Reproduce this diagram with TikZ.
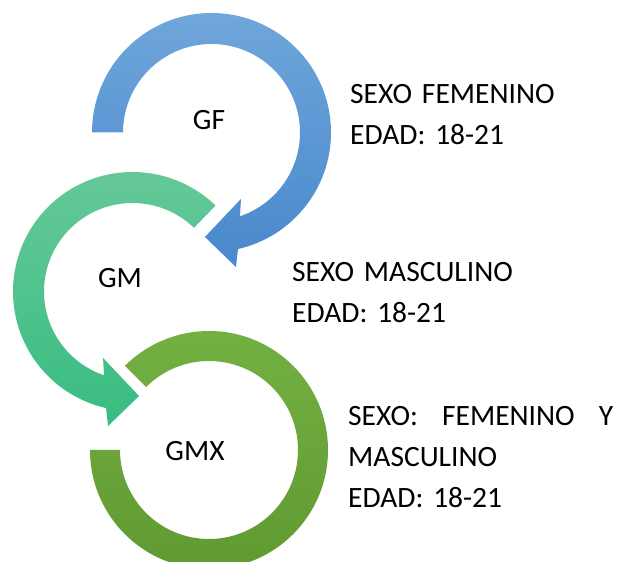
\documentclass[tikz,border=0pt]{standalone}
\usepackage{fontspec}
\setmainfont{Carlito}
\usepackage{xcolor}

\definecolor{gfTop}{RGB}{111,166,219}
\definecolor{gfBot}{RGB}{72,136,204}
\definecolor{gmTop}{RGB}{104,200,154}
\definecolor{gmBot}{RGB}{56,189,129}
\definecolor{gmxTop}{RGB}{115,176,66}
\definecolor{gmxBot}{RGB}{96,154,50}

\begin{document}
\begin{tikzpicture}[x=1pt, y=1pt,
      lbl/.style = {font=\fontsize{29.5}{41}\selectfont, inner sep=0pt},
      info/.style = {lbl, align=left, text width=262pt, anchor=base west},
      GF/.style = {top color=gfTop, bottom color=gfBot},
      GM/.style = {top color=gmTop, bottom color=gmBot},
      GMX/.style = {top color=gmxTop, bottom color=gmxBot} ]
   \useasboundingbox (0,0) rectangle (619,562);
   \clip (0,0) rectangle (619,562);

   \coordinate (cf) at (211.5,429.5);
   \coordinate (cm) at (132.5,270.5);
   \coordinate (cx) at (209,112);

% circular arrows
\path[GF, shift={(cf)}] (180:119.5) arc[start angle=180, end angle=-77.2, radius=119.5]
     -- (-79.7:136.7) -- (-93.6:104.7) -- (-66.1:72.7) -- (-71.2:88.5)
     arc[start angle=-71.2, end angle=180, radius=88.5] -- cycle;
\path[GM, shift={(cm)}] (46:119.5) arc[start angle=46, end angle=257.2, radius=119.5]
     -- (259.7:136.7) -- (273.6:104.7) -- (246.1:72.7) -- (251.2:88.5)
     arc[start angle=251.2, end angle=46, radius=88.5] -- cycle;
\path[GMX, shift={(cx)}] (180:119) arc[start angle=180, end angle=495, radius=119]
     -- (495:89) arc[start angle=495, end angle=180, radius=89] -- cycle;

   \node[lbl] (gf)  at (209,442) {GF};
   \node[lbl] (gm)  at (120,284) {GM};
   \node[lbl] (gmx) at (195,111) {GMX};

   \node[info] (infof) at (350,458) {SEXO FEMENINO\\EDAD: 18-21};
   \node[info] (infom) at (292,280) {SEXO MASCULINO\\EDAD: 18-21};
   \node[info, text width=265pt] (infox) at (348,136)
        {SEXO:\hfill FEMENINO\hfill Y\\MASCULINO\\EDAD: 18-21};
\end{tikzpicture}
\end{document}
